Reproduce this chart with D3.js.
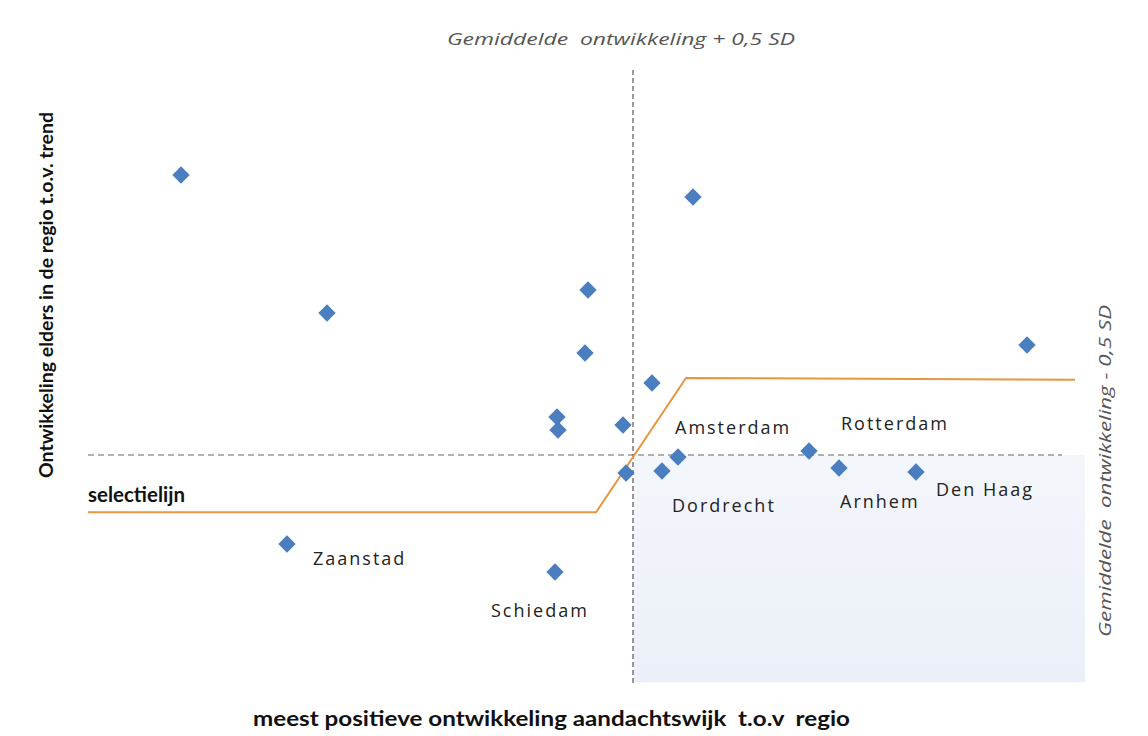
<!DOCTYPE html>
<html>
<head>
<meta charset="utf-8">
<script src="https://cdn.jsdelivr.net/npm/d3@7"></script>
<style>
  html, body { margin: 0; padding: 0; background: #ffffff; }
  svg { display: block; }
</style>
</head>
<body>
<script>
// ---- data (arbitrary 0-100 units) ----
const pointX = [9.3, 23.9, 60.5, 50.0, 49.7, 56.4, 46.9, 47.0, 53.5, 53.8, 57.4, 59.0, 72.1, 75.1, 82.8, 93.9, 19.9, 46.7];
const pointY = [82.95, 60.55, 79.38, 64.29, 54.06, 49.19, 43.67, 41.56, 42.37, 34.58, 34.90, 37.18, 38.15, 35.39, 34.74, 55.36, 23.05, 18.51];
const pointName = ["", "", "", "", "", "", "", "", "", "", "Dordrecht", "Amsterdam", "Rotterdam", "Arnhem", "Den Haag", "", "Zaanstad", "Schiedam"];

const meanX = 54.5;          // Gemiddelde ontwikkeling (x)
const meanY = 37.5;          // Gemiddelde ontwikkeling (y)
const selectionX = [0, 50.8, 59.8, 98.7];
const selectionY = [28.2, 28.2, 50.0, 49.7];

const xTitle = "meest positieve ontwikkeling aandachtswijk  t.o.v  regio";
const yTitle = "Ontwikkeling elders in de regio t.o.v. trend";
const topLabel = "Gemiddelde  ontwikkeling + 0,5 SD";
const rightLabel = "Gemiddelde  ontwikkeling - 0,5 SD";
const selectionLabel = "selectielijn";

// ---- layout ----
const W = 1148, H = 736;
const labelOffset = {
  "Zaanstad": [26, 21], "Schiedam": [-64, 45], "Arnhem": [1, 40], "Den Haag": [20, 24],
  "Rotterdam": [32, -21], "Amsterdam": [-3, -23], "Dordrecht": [10, 41]
};

const svg = d3.select("body").append("svg").attr("width", W).attr("height", H);

const x = d3.scaleLinear().domain([0, 100]).range([88, 1088]);
const y = d3.scaleLinear().domain([0, 100]).range([686, 70]);

const defs = svg.append("defs");
const grad = defs.append("linearGradient").attr("id", "shade").attr("x1", 0).attr("y1", 0).attr("x2", 0).attr("y2", 1);
grad.append("stop").attr("offset", "0%").attr("stop-color", "#f3f6fb");
grad.append("stop").attr("offset", "100%").attr("stop-color", "#ebf0f8");

// shaded quadrant
svg.append("rect")
  .attr("x", x(meanX)).attr("y", y(meanY))
  .attr("width", x(99.7) - x(meanX)).attr("height", y(0.6) - y(meanY))
  .attr("fill", "url(#shade)");

// mean lines
svg.append("line")
  .attr("x1", x(meanX)).attr("x2", x(meanX)).attr("y1", y(100)).attr("y2", y(0.5))
  .attr("stroke", "#555").attr("stroke-width", 1.2).attr("stroke-dasharray", "5,3");
svg.append("line")
  .attr("x1", x(0)).attr("x2", x(97.4)).attr("y1", y(meanY)).attr("y2", y(meanY))
  .attr("stroke", "#666").attr("stroke-width", 1.2).attr("stroke-dasharray", "6,4");

// selection line
const selData = selectionX.map((v, i) => [v, selectionY[i]]);
svg.append("path")
  .datum(selData)
  .attr("d", d3.line().x(d => x(d[0])).y(d => y(d[1])))
  .attr("fill", "none").attr("stroke", "#e8973f").attr("stroke-width", 2);

svg.append("text")
  .attr("x", x(0)).attr("y", 502)
  .attr("font-family", "Lato, 'Liberation Sans', sans-serif").attr("font-weight", "bold")
  .attr("font-size", 20).attr("fill", "#111")
  .attr("textLength", 97).attr("lengthAdjust", "spacingAndGlyphs")
  .text(selectionLabel);

// points
const pts = pointX.map((v, i) => ({ x: v, y: pointY[i], name: pointName[i] }));
const sym = d3.symbol().type(d3.symbolSquare).size(150);
svg.selectAll("path.pt").data(pts).enter().append("path")
  .attr("class", "pt")
  .attr("d", sym)
  .attr("transform", d => `translate(${x(d.x)},${y(d.y)}) rotate(45)`)
  .attr("fill", "#4a7ebf");

// point labels
svg.selectAll("text.lbl").data(pts.filter(d => d.name)).enter().append("text")
  .attr("class", "lbl")
  .attr("x", d => x(d.x) + labelOffset[d.name][0])
  .attr("y", d => y(d.y) + labelOffset[d.name][1])
  .attr("font-family", "'Open Sans', sans-serif").attr("font-size", 18)
  .attr("letter-spacing", 2).attr("fill", "#222")
  .text(d => d.name);

// top label
svg.append("text")
  .attr("x", 447).attr("y", 45)
  .attr("font-family", "'Open Sans', sans-serif").attr("font-style", "italic")
  .attr("font-size", 17).attr("fill", "#555")
  .attr("textLength", 348).attr("lengthAdjust", "spacingAndGlyphs")
  .style("white-space", "pre")
  .text(topLabel);

// right label
svg.append("text")
  .attr("transform", "translate(1111,637) rotate(-90)")
  .attr("font-family", "'Open Sans', sans-serif").attr("font-style", "italic")
  .attr("font-size", 17).attr("fill", "#555")
  .attr("textLength", 332).attr("lengthAdjust", "spacingAndGlyphs")
  .style("white-space", "pre")
  .text(rightLabel);

// axis titles
svg.append("text")
  .attr("x", 253).attr("y", 726)
  .attr("font-family", "Lato, 'Liberation Sans', sans-serif").attr("font-weight", "bold")
  .attr("font-size", 20).attr("fill", "#111")
  .attr("textLength", 597).attr("lengthAdjust", "spacingAndGlyphs")
  .style("white-space", "pre")
  .text(xTitle);

svg.append("text")
  .attr("transform", "translate(53,478) rotate(-90)")
  .attr("font-family", "Lato, 'Liberation Sans', sans-serif").attr("font-weight", "bold")
  .attr("font-size", 18).attr("fill", "#111")
  .attr("textLength", 366).attr("lengthAdjust", "spacingAndGlyphs")
  .text(yTitle);
</script>
</body>
</html>
